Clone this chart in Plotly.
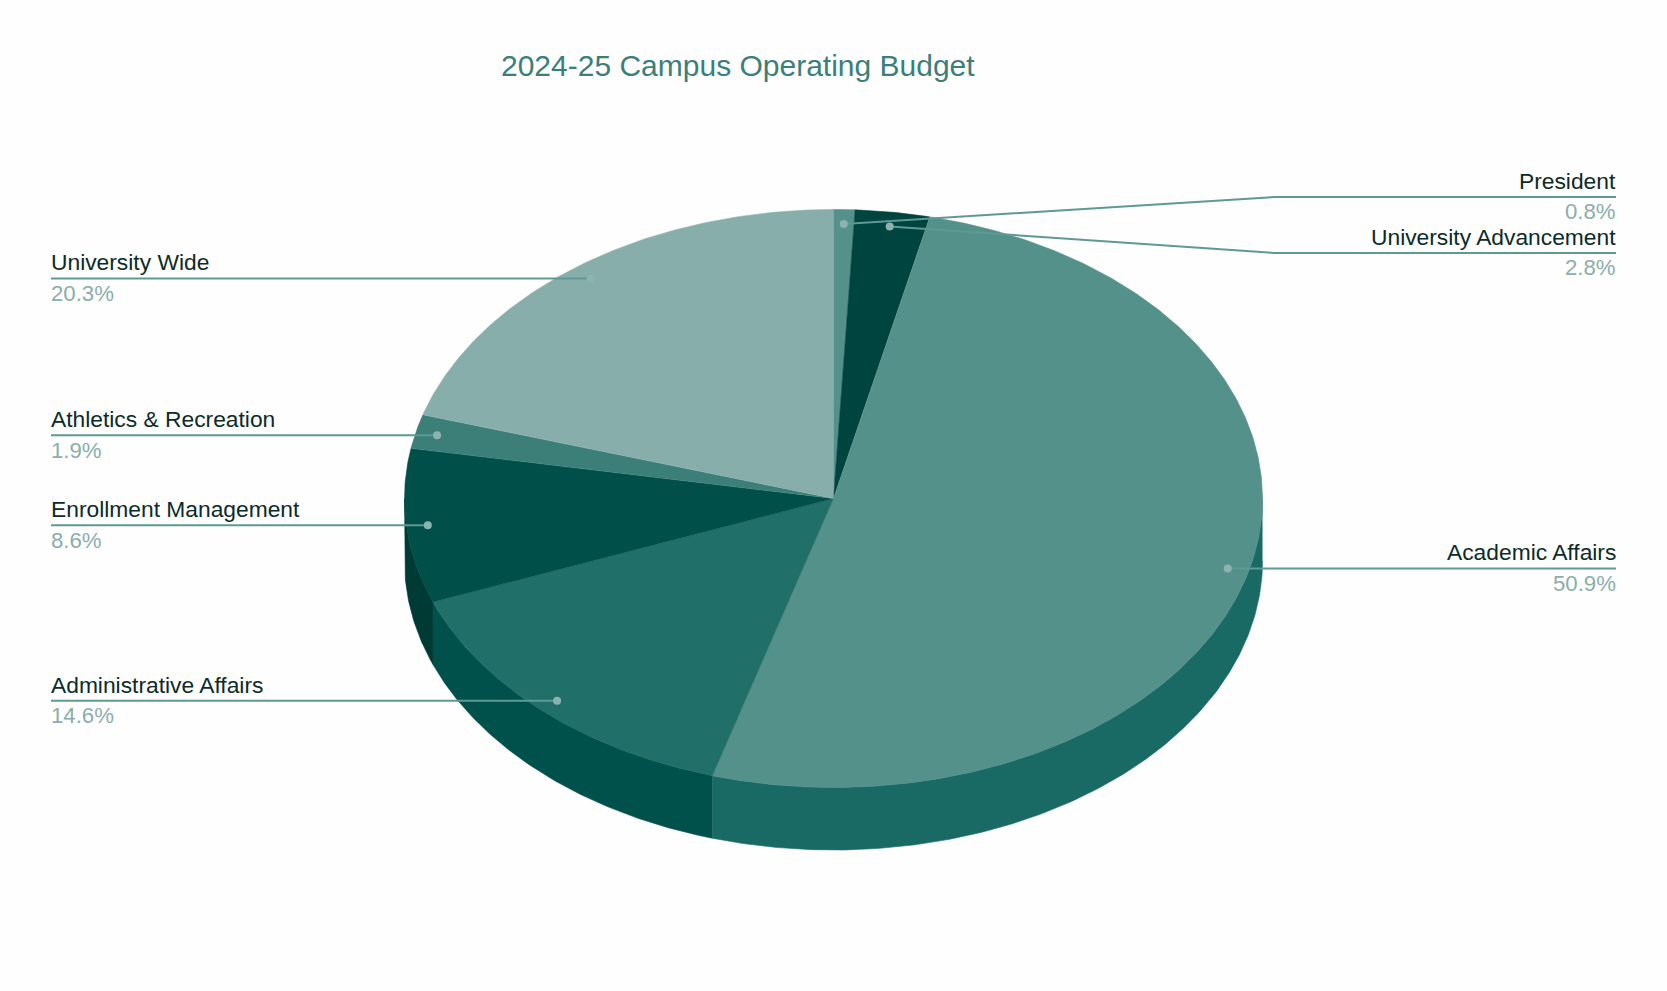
import math
import plotly.graph_objects as go

# Budget shares, clockwise from twelve o'clock
departments = ["President", "University Advancement", "Academic Affairs",
               "Administrative Affairs", "Enrollment Management",
               "Athletics & Recreation", "University Wide"]
shares = [0.8, 2.8, 50.9, 14.6, 8.6, 1.9, 20.3]
top_colors = ["#55918B", "#00443F", "#55918B", "#206F68", "#004F49", "#3B7F78", "#88AEAB"]
wall_colors = ["#3B7F78", "#00332F", "#196A64", "#00514B", "#003A35", "#2A6B65", "#6E9C98"]
title_text = "2024-25 Campus Operating Budget"

# Canvas and disc geometry
W, H = 1667, 991
CX, CY, RX, RY = 833.5, 498.5, 429.0, 289.0
DEPTH = 62.5
ANCHOR_RADIUS = 0.95
LEFT_EDGE, RIGHT_EDGE = 51, 1616
ELBOW_X = 1275
ELBOWS = {"President": 197, "University Advancement": 253}
NAME_COLOR, PCT_COLOR = "#0C2B29", "#8AAEAB"
LEADER_COLOR, DOT_COLOR = "#5E9A93", "#8DB3AF"
FONT = "Liberation Sans"
NAME_SIZE, PCT_SIZE = 22.8, 22.2


def rim(theta_deg, scale=1.0, drop=0.0):
    t = math.radians(theta_deg)
    return CX + RX * scale * math.sin(t), CY - RY * scale * math.cos(t) + drop


def arc(a0, a1, drop=0.0):
    n = max(2, int(abs(a1 - a0) * 2))
    return [rim(a0 + (a1 - a0) * i / n, drop=drop) for i in range(n + 1)]


def polygon(fig, pts, color, name):
    fig.add_trace(go.Scatter(
        x=[p[0] for p in pts], y=[p[1] for p in pts], mode="lines",
        fill="toself", fillcolor=color, line=dict(width=0.6, color=color),
        name=name, hoverinfo="name", showlegend=False))


fig = go.Figure()

# Slice angles from the shares
total = sum(shares)
spans, a = [], 0.0
for s in shares:
    spans.append((a, a + s / total * 360))
    a = spans[-1][1]

# Front wall of the disc: only the part of each slice between 90 and 270 degrees
for name, (a0, a1), color in zip(departments, spans, wall_colors):
    lo, hi = max(a0, 90), min(a1, 270)
    if lo < hi:
        polygon(fig, arc(lo, hi) + arc(hi, lo, drop=DEPTH), color, name)

# Top face
for name, (a0, a1), color in zip(departments, spans, top_colors):
    polygon(fig, [(CX, CY)] + arc(a0, a1), color, name)

# Leader lines, anchor dots and two-line labels
annotations = []
for name, share, (a0, a1) in zip(departments, shares, spans):
    x, y = rim((a0 + a1) / 2, scale=ANCHOR_RADIUS)
    right = x > CX
    edge = RIGHT_EDGE if right else LEFT_EDGE
    if name in ELBOWS:
        ly = ELBOWS[name]
        xs, ys = [x, ELBOW_X, edge], [y, ly, ly]
    else:
        ly = y + 0.5
        xs, ys = [x, edge], [ly, ly]
    fig.add_trace(go.Scatter(x=xs, y=ys, mode="lines",
                             line=dict(color=LEADER_COLOR, width=2),
                             hoverinfo="skip", showlegend=False))
    fig.add_trace(go.Scatter(x=[x], y=[ys[0]], mode="markers",
                             marker=dict(color=DOT_COLOR, size=8),
                             hoverinfo="skip", showlegend=False))
    anchor = "right" if right else "left"
    shift = 2 if right else -2
    annotations.append(dict(x=edge, y=ly - 1.2, yanchor="bottom", text=name, xanchor=anchor,
                            showarrow=False, xshift=shift,
                            font=dict(family=FONT, size=NAME_SIZE, color=NAME_COLOR)))
    annotations.append(dict(x=edge, y=ly + 0.3, yanchor="top", text=f"{share}%", xanchor=anchor,
                            showarrow=False, xshift=shift,
                            font=dict(family=FONT, size=PCT_SIZE, color=PCT_COLOR)))

annotations.append(dict(x=738, y=65, text=title_text, showarrow=False,
                        xanchor="center", yanchor="middle",
                        font=dict(family=FONT, size=30, color="#3B7F78")))

fig.update_layout(
    width=W, height=H, margin=dict(l=0, r=0, t=0, b=0),
    paper_bgcolor="#FEFEFE", plot_bgcolor="#FEFEFE", showlegend=False,
    xaxis=dict(range=[0, W], visible=False, fixedrange=True),
    yaxis=dict(range=[H, 0], visible=False, fixedrange=True),
    annotations=annotations,
)
fig.write_html("out.html", config={"displayModeBar": False})
